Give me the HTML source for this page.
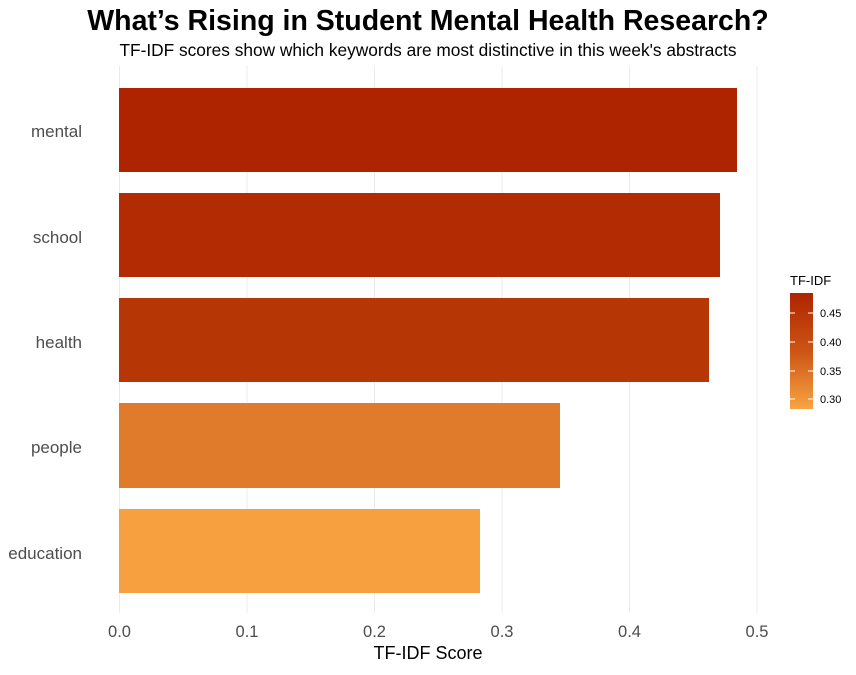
<!DOCTYPE html>
<html><head><style>body{margin:0;background:#fff}</style></head><body>
<svg width="856" height="670" xmlns="http://www.w3.org/2000/svg" font-family="'Liberation Sans',sans-serif">
<defs><linearGradient id="g" x1="0" y1="0" x2="0" y2="1"><stop offset="0" stop-color="#AE2400"/><stop offset="0.5" stop-color="#CC5515"/><stop offset="1" stop-color="#F9A442"/></linearGradient></defs>
<rect width="856" height="670" fill="#fff"/>
<text x="428" y="30" text-anchor="middle" font-size="28.5" font-weight="bold">What’s Rising in Student Mental Health Research?</text>
<text x="428" y="56" text-anchor="middle" font-size="17.3">TF-IDF scores show which keywords are most distinctive in this week's abstracts</text>
<g stroke="#ebebeb" stroke-width="1">
<line x1="119.5" y1="66" x2="119.5" y2="613"/><line x1="247" y1="66" x2="247" y2="613"/><line x1="374.5" y1="66" x2="374.5" y2="613"/><line x1="502" y1="66" x2="502" y2="613"/><line x1="629.5" y1="66" x2="629.5" y2="613"/><line x1="757" y1="66" x2="757" y2="613"/>
</g>
<rect x="119" y="88" width="618" height="84" fill="#AE2400"/>
<rect x="119" y="193" width="601" height="84" fill="#B22B02"/>
<rect x="119" y="298" width="590" height="84" fill="#B73606"/>
<rect x="119" y="403" width="441" height="85" fill="#E07B2C"/>
<rect x="119" y="509" width="361" height="84" fill="#F7A040"/>
<g font-size="17" fill="#4d4d4d" text-anchor="end">
<text x="82" y="137">mental</text><text x="82" y="243">school</text><text x="82" y="348">health</text><text x="82" y="453">people</text><text x="82" y="559">education</text>
</g>
<g font-size="16.5" fill="#4d4d4d" text-anchor="middle">
<text x="119.5" y="637">0.0</text><text x="247" y="637">0.1</text><text x="374.5" y="637">0.2</text><text x="502" y="637">0.3</text><text x="629.5" y="637">0.4</text><text x="757" y="637">0.5</text>
</g>
<text x="428" y="659" text-anchor="middle" font-size="18">TF-IDF Score</text>
<text x="790" y="285" font-size="13">TF-IDF</text>
<rect x="790" y="293" width="23" height="116" fill="url(#g)"/>
<g stroke="#fff" stroke-width="1"><line x1="790" y1="313" x2="795" y2="313"/><line x1="808" y1="313" x2="813" y2="313"/><line x1="790" y1="342" x2="795" y2="342"/><line x1="808" y1="342" x2="813" y2="342"/><line x1="790" y1="371" x2="795" y2="371"/><line x1="808" y1="371" x2="813" y2="371"/><line x1="790" y1="399" x2="795" y2="399"/><line x1="808" y1="399" x2="813" y2="399"/></g>
<g font-size="11"><text x="820" y="317">0.45</text><text x="820" y="346">0.40</text><text x="820" y="375">0.35</text><text x="820" y="403">0.30</text></g>
</svg>
</body></html>
